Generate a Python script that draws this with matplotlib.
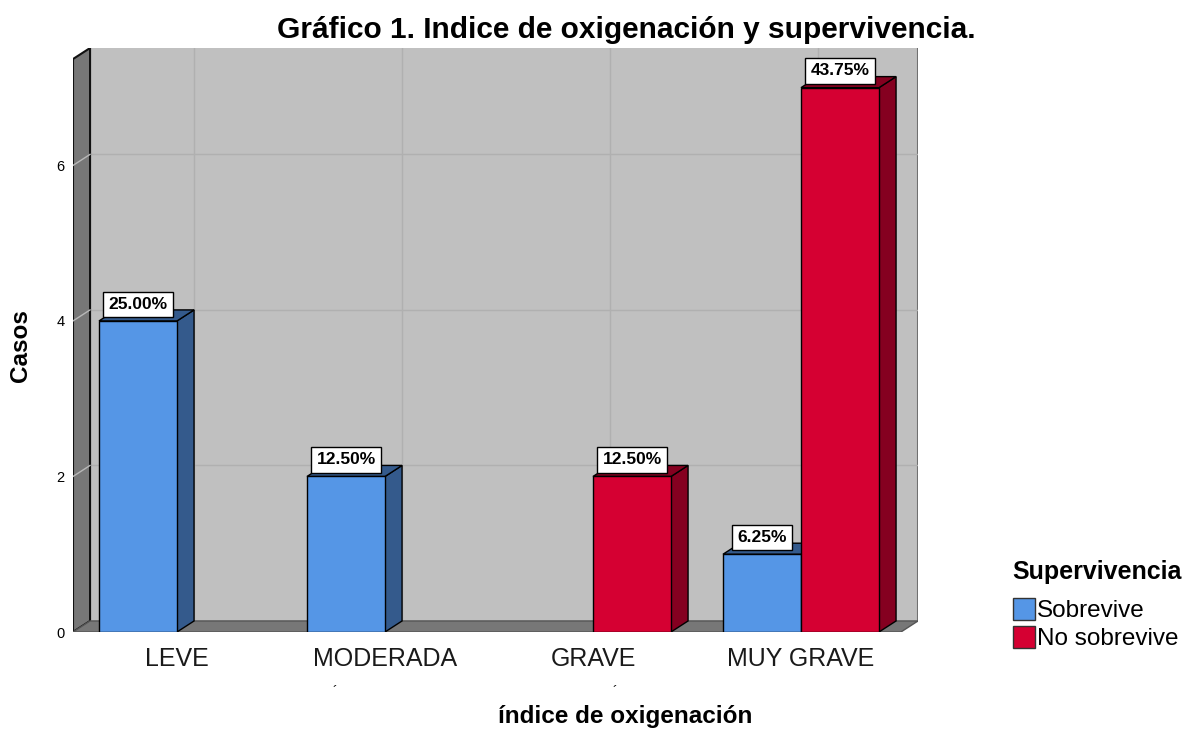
import matplotlib.pyplot as plt
from matplotlib.patches import Polygon, Rectangle, Patch

plt.rcParams['font.family'] = ['Liberation Sans', 'DejaVu Sans']

# data
categorias = ['LEVE', 'MODERADA', 'GRAVE', 'MUY GRAVE']
sobrevive = [4, 2, 0, 1]
no_sobrevive = [0, 0, 2, 7]
series = ['Sobrevive', 'No sobrevive']
total = sum(sobrevive) + sum(no_sobrevive)

# colores: cara frontal, cara lateral/superior
frente = ['#5596e6', '#d50032']
lado = ['#345a8c', '#850020']

# geometria del efecto 3D
ancho = 0.375
dx, dy = 0.082, 0.142
x0, x1 = -0.5, 3.5625
ymax = 7.51

fig = plt.figure(figsize=(11.85, 7.3), dpi=100)
ax = fig.add_axes([73 / 1185, 1 - 632 / 730, (918 - 73) / 1185, (632 - 48) / 730])
ax.set_xlim(x0, x1)
ax.set_ylim(0, ymax)
for s in ax.spines.values():
    s.set_visible(False)

# pared del fondo
ax.add_patch(Rectangle((x0 + dx, dy), x1 - x0 - dx, ymax - dy, facecolor='#c0c0c0',
                       edgecolor='none', zorder=0))
ax.plot([x1, x1], [dy, ymax], color='#707070', lw=1.5, zorder=1)

# lineas de cuadricula
for yv in [2, 4, 6]:
    ax.plot([x0 + dx, x1], [yv + dy, yv + dy], color='#b0b0b0', lw=1, zorder=1)
    ax.plot([x0, x0 + dx], [yv, yv + dy], color='#b8b8b8', lw=1, zorder=3)
for i in range(len(categorias)):
    ax.plot([i + dx, i + dx], [dy, ymax], color='#b0b0b0', lw=1, zorder=1)

# pared izquierda
ax.add_patch(Polygon([(x0, 0), (x0 + dx, dy), (x0 + dx, ymax), (x0, ymax - dy)],
                     closed=True, facecolor='#777777', edgecolor='#111111', lw=1.5, zorder=2))
# suelo
xf = x1 - dx
ax.add_patch(Polygon([(x0, 0), (xf, 0), (x1, dy), (x0 + dx, dy)],
                     closed=True, facecolor='#777777', edgecolor='#555555', lw=1, zorder=2))

# barras
for i in range(len(categorias)):
    for k, vals in enumerate([sobrevive, no_sobrevive]):
        v = vals[i]
        if v == 0:
            continue
        xl = i - ancho if k == 0 else i
        xr = xl + ancho
        z = 4 + i * 2 + k
        ax.add_patch(Polygon([(xr, 0), (xr + dx, dy), (xr + dx, v + dy), (xr, v)],
                             closed=True, facecolor=lado[k], edgecolor='black', lw=1, zorder=z))
        ax.add_patch(Polygon([(xl, v), (xr, v), (xr + dx, v + dy), (xl + dx, v + dy)],
                             closed=True, facecolor=lado[k], edgecolor='black', lw=1, zorder=z))
        ax.add_patch(Rectangle((xl, 0), ancho, v, facecolor=frente[k], edgecolor='black',
                               lw=1, zorder=z))
        ax.annotate(f'{v / total * 100:.2f}%', xy=(xl + ancho / 2, v), xytext=(0, 12),
                    textcoords='offset points', ha='center', va='center', fontsize=12.5,
                    fontweight='bold', zorder=20,
                    bbox=dict(boxstyle='square,pad=0.3', facecolor='white', edgecolor='black', lw=1))

# ejes
ax.set_yticks([0, 2, 4, 6])
ax.set_yticklabels(['0', '2', '4', '6'], fontsize=10.5)
ax.set_xticks(range(len(categorias)))
ax.set_xticklabels(categorias, fontsize=18, color='#1a1a1a')
ax.tick_params(axis='y', length=0, pad=6)
ax.tick_params(axis='x', length=0, pad=11)
fig.text(20 / 1185, 1 - 346 / 730, 'Casos', rotation=90, fontsize=17.5, fontweight='bold',
         ha='center', va='center')
fig.text(625 / 1185, 1 - 717 / 730, 'índice de oxigenación', fontsize=17.5, fontweight='bold',
         ha='center', va='center')
fig.text(335 / 1185, 1 - 692 / 730, '´', fontsize=10, ha='center', va='center')
fig.text(615 / 1185, 1 - 692 / 730, '´', fontsize=10, ha='center', va='center')

fig.suptitle('Gráfico 1. Indice de oxigenación y supervivencia.', x=626 / 1185,
             y=1 - 30 / 730, va='center', fontsize=21.5, fontweight='bold')

# leyenda
fig.text(1012 / 1185, 1 - 572 / 730, 'Supervivencia', fontsize=18, fontweight='bold',
         ha='left', va='center')
handles = [Patch(facecolor=frente[k], edgecolor='#333333', label=series[k]) for k in range(2)]
leg = fig.legend(handles=handles, loc='upper left',
                 bbox_to_anchor=(996 / 1185, 1 - 581 / 730), frameon=False, fontsize=17.5,
                 handlelength=0.9, handleheight=1.0, handletextpad=0.1, labelspacing=0.15,
                 borderpad=0.2)

fig.savefig('out.png', dpi=100)
